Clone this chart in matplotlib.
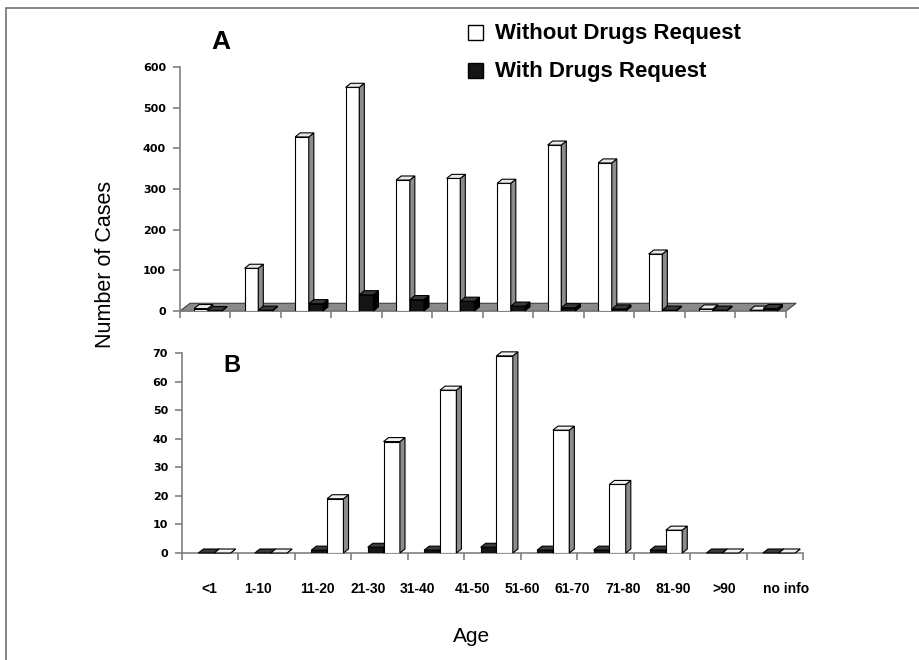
import matplotlib
matplotlib.use('Agg')
import matplotlib.pyplot as plt
from matplotlib.patches import Polygon, Rectangle

# age groups (shared label row under both panels)
age_groups = ['<1', '1-10', '11-20', '21-30', '31-40', '41-50', '51-60',
              '61-70', '71-80', '81-90', '>90', 'no info']

# panel A, 12 groups
a_without = [6, 105, 428, 550, 322, 326, 314, 408, 364, 140, 5, 2]
a_with = [1, 2, 18, 40, 28, 24, 12, 8, 5, 2, 2, 6]

# panel B, 11 groups as drawn in the figure
b_with = [0, 0, 1, 2, 1, 2, 1, 1, 1, 0, 0]
b_without = [0, 0, 19, 39, 57, 69, 43, 24, 8, 0, 0]

a_ticks = [0, 100, 200, 300, 400, 500, 600]
b_ticks = [0, 10, 20, 30, 40, 50, 60, 70]

# label row centers, in pixels of the 920 px wide figure
label_x_px = [209, 258, 317, 368, 417, 473, 522, 572, 623, 673, 724, 786]

W, H = 920, 660
GRAY = '#808080'


def bar3d(ax, x, w, h, dx, dy, front, side, top):
    ax.bar(x, h, width=w, align='edge', color=front, edgecolor='black',
           linewidth=0.8, zorder=3)
    ax.add_patch(Polygon([(x + w, 0), (x + w + dx, dy), (x + w + dx, h + dy), (x + w, h)],
                         closed=True, facecolor=side, edgecolor='black',
                         linewidth=0.8, zorder=3, clip_on=False))
    ax.add_patch(Polygon([(x, h), (x + dx, h + dy), (x + w + dx, h + dy), (x + w, h)],
                         closed=True, facecolor=top, edgecolor='black',
                         linewidth=0.8, zorder=3, clip_on=False))


def style_axes(ax, n, ymax, ticks):
    ax.set_xlim(0, n)
    ax.set_ylim(0, ymax)
    for s in ['top', 'right']:
        ax.spines[s].set_visible(False)
    for s in ['left', 'bottom']:
        ax.spines[s].set_color(GRAY)
        ax.spines[s].set_linewidth(1.2)
    ax.set_yticks(ticks)
    ax.set_yticklabels([str(t) for t in ticks], fontsize=8, fontweight='bold',
                       family='DejaVu Sans')
    ax.set_xticks(range(n + 1))
    ax.set_xticklabels([])
    ax.tick_params(axis='both', colors=GRAY, length=5, width=1.2, labelcolor='black')
    ax.tick_params(axis='y', pad=5)


plt.rcParams['font.family'] = ['Liberation Sans', 'DejaVu Sans']

fig = plt.figure(figsize=(W / 100, H / 100), dpi=100)

# panel A
axA = fig.add_axes([180 / W, (H - 311) / H, 606 / W, 244 / H])
style_axes(axA, 12, 600, a_ticks)
fdx, fdy = 0.2, 19
n = len(a_without)
axA.add_patch(Polygon([(0, 0), (n, 0), (n + fdx, fdy), (fdx, fdy)], closed=True,
                      facecolor='#8a8a8a', edgecolor='#404040', linewidth=0.8,
                      zorder=2, clip_on=False))
for i in range(n):
    bar3d(axA, i + 0.28, 0.27, a_without[i], 0.1, 10, 'white', '#8c8c8c', '#e8e8e8')
    bar3d(axA, i + 0.55, 0.28, a_with[i], 0.1, 10, '#151515', '#000000', '#3a3a3a')

# panel B
axB = fig.add_axes([182 / W, (H - 553) / H, 621 / W, 200 / H])
style_axes(axB, 11, 70, b_ticks)
for i in range(len(b_without)):
    bar3d(axB, i + 0.29, 0.28, b_with[i], 0.09, 1.4, '#151515', '#000000', '#3a3a3a')
    bar3d(axB, i + 0.57, 0.29, b_without[i], 0.09, 1.4, 'white', '#8c8c8c', '#f2f2f2')

# panel letters
fig.text(221 / W, 1 - 42 / H, 'A', fontsize=19, fontweight='bold', ha='center', va='center')
fig.text(232 / W, 1 - 366 / H, 'B', fontsize=17, fontweight='bold', ha='center', va='center')

# legend
fig.add_artist(Rectangle((468 / W, 1 - 40 / H), 15 / W, 15 / H, transform=fig.transFigure,
                         facecolor='white', edgecolor='black', linewidth=1))
fig.text(495 / W, 1 - 33 / H, 'Without Drugs Request', fontsize=16, fontweight='bold',
         va='center', ha='left')
fig.add_artist(Rectangle((468 / W, 1 - 78 / H), 15 / W, 15 / H, transform=fig.transFigure,
                         facecolor='#151515', edgecolor='black', linewidth=1))
fig.text(495 / W, 1 - 71 / H, 'With Drugs Request', fontsize=16, fontweight='bold',
         va='center', ha='left')

# category label row and axis titles
for lab, xp in zip(age_groups, label_x_px):
    fig.text(xp / W, 1 - 589 / H, lab, fontsize=10, fontweight='bold',
             ha='center', va='center')
fig.text(472 / W, 1 - 636 / H, 'Age', fontsize=15, ha='center', va='center')
fig.text(106 / W, 1 - 264 / H, 'Number of Cases', fontsize=15.5, rotation=90,
         ha='center', va='center')

# outer frame
fig.add_artist(Rectangle((6 / W, -0.1), 2, 0.1 + 1 - 8 / H, transform=fig.transFigure,
                         fill=False, edgecolor='#707070', linewidth=1.2))

fig.savefig('out.png', dpi=100)
